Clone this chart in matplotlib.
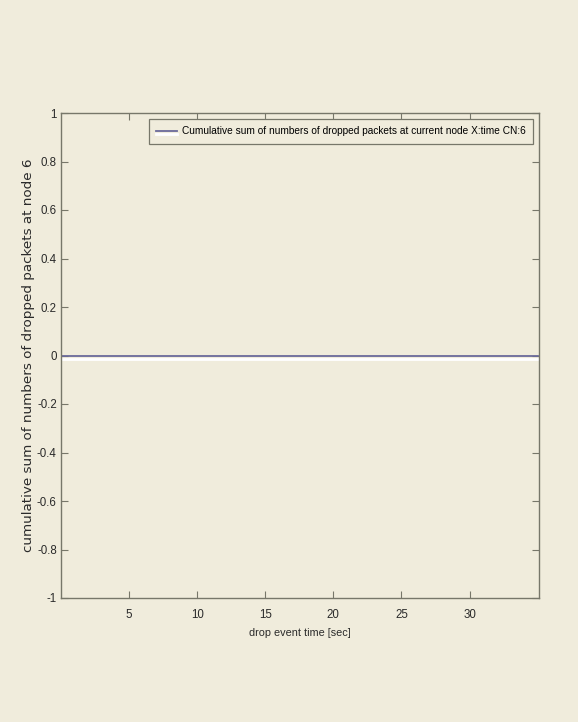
import matplotlib
matplotlib.use("Agg")
import matplotlib.pyplot as plt
import matplotlib.patheffects as pe

drop_times = [0, 5, 10, 15, 20, 25, 30, 35]
cum_dropped = [0, 0, 0, 0, 0, 0, 0, 0]
xticks = [5, 10, 15, 20, 25, 30]
yticks = [-1, -0.8, -0.6, -0.4, -0.2, 0, 0.2, 0.4, 0.6, 0.8, 1]
ytick_labels = ["-1", "-0.8", "-0.6", "-0.4", "-0.2", "0", "0.2", "0.4", "0.6", "0.8", "1"]

bg = "#f0ecdc"
spine_c = "#77776a"
txt_c = "#2a2a2a"
plt.rcParams['font.family'] = ['Liberation Sans', 'DejaVu Sans']

fig = plt.figure(figsize=(5.78, 7.22), dpi=100, facecolor=bg)
ax = fig.add_axes([61/578, 1 - 598/722, (539-61)/578, (598-113)/722])
ax.set_facecolor(bg)

ax.plot(drop_times, cum_dropped, color="#6a6a9a", lw=1.3,
        label="Cumulative sum of numbers of dropped packets at current node X:time CN:6",
        path_effects=[pe.SimpleLineShadow(offset=(0, -2.2), shadow_color="white", alpha=1.0, linewidth=2),
                      pe.Normal()])

ax.set_xlim(0, 35.1)
ax.set_ylim(-1, 1)
ax.set_xticks(xticks)
ax.set_yticks(yticks)
ax.set_yticklabels(ytick_labels)
ax.tick_params(direction="in", top=True, right=True, length=5, width=0.8,
               color=spine_c, labelsize=8.3, labelcolor=txt_c)
ax.tick_params(axis="x", pad=8)
ax.tick_params(axis="y", pad=3)
for s in ax.spines.values():
    s.set_color(spine_c)
    s.set_linewidth(1.0)

ax.set_xlabel("drop event time [sec]", fontsize=7.8, color=txt_c, labelpad=5)
ax.set_ylabel("cumulative sum of numbers of dropped packets at node 6", fontsize=9.7,
              family=['DejaVu Sans'], color=txt_c)
ax.yaxis.set_label_coords((35 - 61) / 478, 0.5)

leg = ax.legend(loc="upper right", fontsize=7.3, frameon=True, fancybox=False,
                handlelength=2.05, handletextpad=0.5, borderpad=0.75, borderaxespad=0.55)
leg.get_frame().set_edgecolor(spine_c)
leg.get_frame().set_facecolor(bg)
leg.get_frame().set_linewidth(0.9)
leg.get_frame().set_alpha(1)

fig.savefig("out.png", dpi=100, facecolor=bg)
